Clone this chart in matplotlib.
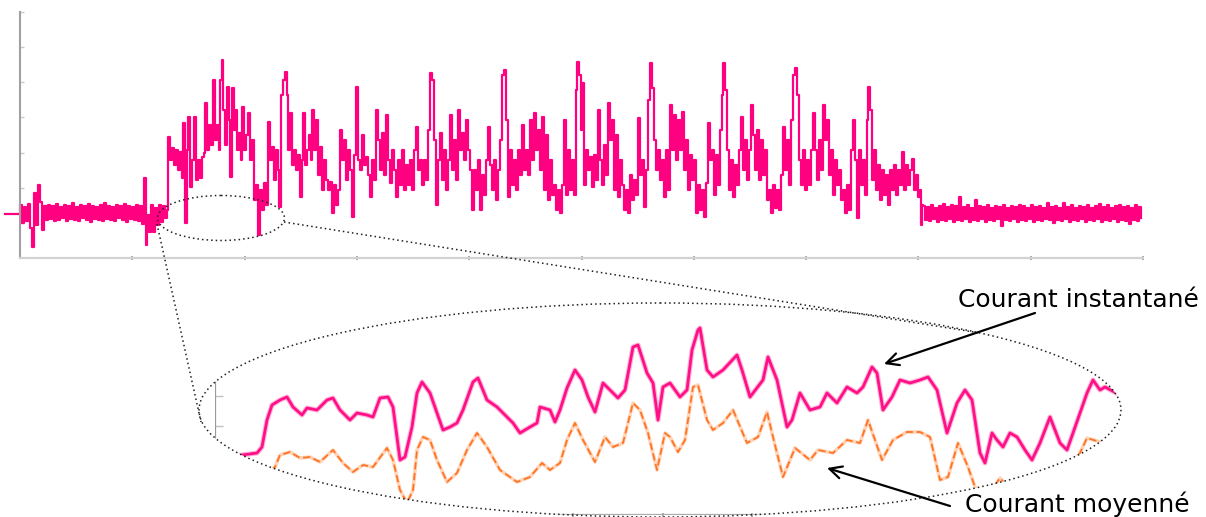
import numpy as np
import matplotlib
matplotlib.use("Agg")
import matplotlib.pyplot as plt
from matplotlib.patches import Ellipse

FONT = ['DejaVu Sans']

# ---------------- main trace (instantaneous current) ----------------
# units: time in samples (x), current in arbitrary units (y)
pre_x = [-15]
pre_v = [44]

base_left_x = list(range(0, 127, 2))
base_left_v = [53, 35, 51, 37, 54, 30, 11, 65, 33, 73, 56, 28, 52, 38, 53, 39, 52, 37, 54, 38,
               51, 40, 53, 37, 52, 39, 55, 38, 51, 37, 53, 40, 52, 38, 54, 36, 52, 39, 51, 38,
               53, 37, 55, 39, 52, 38, 51, 37, 53, 40, 52, 38, 54, 36, 52, 39, 51, 38, 53, 37,
               52, 34, 80, 13]

active_pts = [
    (127, 43), (129, 26), (131, 53), (133, 26), (135, 50), (137, 33), (139, 53), (141, 36), (143, 52), (145, 40),
    (147, 48), (148, 121), (150, 98), (152, 110), (154, 93), (156, 108), (158, 88), (160, 106), (162, 80), (163, 135),
    (165, 35), (167, 108), (168, 141), (170, 71), (172, 98), (174, 141), (176, 78), (178, 98), (180, 80), (182, 101),
    (184, 105), (185, 155), (187, 108), (189, 133), (191, 113), (193, 178), (195, 118), (197, 133), (199, 108), (200, 178),
    (202, 198), (203, 148), (205, 113), (207, 171), (209, 138), (210, 81), (212, 170), (214, 128), (216, 148), (217, 108),
    (219, 125), (221, 98), (222, 151), (224, 108), (226, 123), (228, 145), (230, 98), (232, 118), (234, 58), (236, 73),
    (238, 23), (240, 68), (242, 48), (244, 75), (246, 53), (248, 136), (250, 98), (252, 111), (254, 78), (256, 108),
    (258, 88), (259, 51), (261, 163), (263, 178), (265, 186), (267, 163), (268, 108), (270, 145), (272, 93), (274, 108),
    (276, 88), (278, 103), (280, 61), (282, 98), (283, 145), (285, 93), (287, 108), (289, 123), (291, 98), (292, 148),
    (294, 108), (296, 138), (298, 83), (300, 111), (302, 68), (304, 98), (306, 78), (308, 68), (310, 76), (312, 45),
    (314, 73), (316, 53), (318, 68), (320, 128), (322, 98), (324, 118), (326, 78), (328, 108), (330, 88), (332, 41),
    (334, 103), (336, 171), (338, 98), (340, 88), (342, 123), (344, 93), (346, 101), (348, 83), (350, 61), (352, 98),
    (354, 78), (356, 148), (358, 118), (360, 88), (362, 125), (364, 83), (366, 143), (368, 98), (370, 75), (372, 108),
    (374, 88), (376, 61), (378, 98), (380, 73), (382, 108), (384, 68), (386, 93), (388, 73), (390, 98), (392, 68),
    (394, 108), (396, 131), (398, 88), (400, 98), (402, 73), (404, 98), (406, 78), (408, 128), (410, 185), (412, 178),
    (414, 118), (416, 53), (418, 98), (420, 125), (422, 78), (424, 108), (426, 68), (428, 98), (430, 143), (432, 88),
    (434, 118), (436, 78), (438, 148), (440, 108), (442, 125), (444, 98), (446, 138), (448, 108), (450, 88), (452, 48),
    (454, 88), (456, 68), (458, 98), (460, 48), (462, 83), (464, 63), (466, 98), (468, 131), (470, 93), (472, 68),
    (474, 98), (476, 58), (478, 88), (480, 118), (482, 183), (484, 188), (486, 138), (488, 61), (490, 108), (492, 73),
    (494, 98), (496, 68), (498, 108), (500, 83), (502, 133), (504, 88), (506, 108), (508, 83), (510, 138), (512, 98),
    (514, 145), (516, 108), (518, 128), (520, 88), (522, 141), (524, 68), (526, 123), (528, 58), (530, 98), (532, 63),
    (534, 73), (536, 48), (538, 68), (540, 45), (542, 73), (544, 138), (546, 63), (548, 108), (550, 68), (552, 98),
    (554, 63), (556, 168), (557, 196), (559, 183), (561, 128), (562, 175), (564, 73), (566, 108), (568, 88), (570, 101),
    (572, 71), (574, 103), (576, 78), (578, 148), (580, 98), (582, 73), (584, 113), (586, 83), (588, 155), (590, 118),
    (592, 138), (594, 68), (596, 123), (598, 61), (600, 98), (602, 73), (604, 48), (606, 68), (608, 45), (610, 83),
    (612, 58), (614, 78), (616, 63), (618, 140), (620, 83), (622, 98), (624, 51), (626, 88), (628, 158), (630, 195),
    (632, 170), (634, 118), (636, 88), (638, 108), (640, 78), (642, 98), (644, 61), (646, 108), (648, 68), (650, 153),
    (652, 108), (654, 143), (656, 98), (658, 138), (660, 108), (662, 146), (664, 88), (666, 118), (668, 68), (670, 103),
    (672, 78), (674, 98), (676, 45), (678, 73), (680, 48), (682, 68), (684, 41), (686, 75), (688, 135), (690, 98),
    (692, 108), (694, 63), (696, 103), (698, 73), (700, 128), (702, 163), (703, 195), (705, 168), (707, 108), (709, 68),
    (711, 98), (713, 61), (715, 93), (717, 73), (719, 108), (721, 141), (723, 88), (725, 118), (727, 78), (729, 108),
    (731, 153), (733, 123), (735, 88), (737, 128), (739, 78), (741, 118), (743, 83), (745, 108), (747, 58), (749, 68),
    (751, 45), (753, 73), (755, 50), (757, 68), (759, 48), (761, 83), (763, 131), (765, 88), (767, 118), (769, 73),
    (771, 138), (773, 183), (775, 190), (777, 163), (779, 98), (781, 73), (783, 108), (785, 68), (787, 98), (789, 73),
    (791, 108), (793, 145), (795, 108), (797, 78), (799, 118), (801, 88), (803, 153), (805, 118), (807, 138), (809, 83),
    (811, 108), (813, 63), (815, 98), (817, 73), (819, 88), (821, 58), (823, 68), (825, 45), (827, 73), (829, 48),
    (831, 108), (833, 138), (835, 98), (837, 40), (839, 108), (841, 73), (843, 98), (845, 63), (847, 138), (848, 171),
    (850, 148), (852, 78), (854, 108), (856, 68), (858, 93), (860, 58), (862, 88), (864, 63), (866, 83), (868, 53),
    (870, 88), (872, 68), (874, 93), (876, 63), (878, 88), (880, 73), (882, 106), (884, 68), (886, 93), (888, 73),
    (890, 88), (892, 99), (894, 68), (896, 83), (898, 61), (900, 68), (901, 33), (902, 53),
]

base_right_x = list(range(903, 1122, 2))
base_right_v = [52, 38, 51, 37, 53, 39, 50, 36, 52, 38, 54, 37, 51, 39, 53, 36, 52, 38, 61, 37,
                51, 39, 53, 36, 50, 38, 58, 37, 52, 39, 51, 36, 53, 38, 50, 37, 52, 39, 51, 32,
                53, 38, 50, 37, 52, 39, 51, 36, 53, 38, 52, 37, 50, 39, 53, 36, 51, 38, 52, 37,
                50, 39, 55, 38, 51, 35, 52, 38, 50, 37, 55, 39, 51, 36, 53, 38, 50, 37, 52, 39,
                51, 36, 53, 38, 50, 37, 52, 39, 54, 36, 51, 38, 53, 37, 50, 39, 52, 36, 53, 38,
                51, 37, 52, 34, 50, 38, 53, 37, 51, 40]

# ---------------- inset (zoom) traces ----------------
inset_inst_t = [0, 15, 27, 42, 47, 52, 57, 65, 72, 78, 87, 92, 102, 112, 118, 125, 135, 142, 152, 158,
                165, 173, 178, 185, 190, 197, 202, 207, 215, 222, 228, 235, 242, 248, 258, 263, 272, 282, 292, 298,
                305, 315, 322, 325, 335, 340, 345, 352, 360, 367, 373, 380, 388, 395, 403, 410, 418, 423, 432, 438,
                443, 448, 455, 465, 472, 477, 483, 485, 492, 498, 508, 522, 527, 535, 548, 553, 562, 572, 577, 585,
                595, 605, 612, 622, 632, 642, 648, 657, 662, 668, 677, 685, 695, 705, 713, 722, 732, 742, 750, 757,
                765, 770, 777, 782, 788, 795, 802, 810, 817, 825, 835, 845, 852, 858, 865, 872, 878, 885, 890, 905]
inset_inst_v = [57, 58, 60, 62, 68, 95, 110, 115, 118, 108, 100, 107, 105, 115, 117, 105, 95, 102, 100, 98,
                117, 118, 108, 55, 58, 88, 122, 133, 122, 102, 85, 88, 92, 105, 133, 137, 115, 108, 98, 92,
                82, 88, 92, 108, 105, 93, 105, 127, 145, 135, 118, 103, 132, 125, 117, 125, 168, 170, 142, 132,
                95, 128, 132, 118, 125, 165, 185, 187, 145, 138, 145, 160, 145, 118, 135, 158, 135, 88, 95, 122,
                105, 108, 122, 112, 128, 122, 128, 148, 142, 105, 118, 135, 132, 135, 138, 125, 82, 112, 125, 115,
                62, 52, 82, 75, 68, 82, 78, 65, 55, 72, 98, 72, 65, 82, 102, 122, 135, 125, 128, 120]

inset_avg_t = [40, 60, 65, 75, 85, 95, 105, 118, 128, 138, 148, 158, 172, 178, 185, 192, 198, 202, 208, 215,
               222, 232, 242, 252, 262, 272, 285, 302, 315, 327, 335, 345, 352, 360, 368, 380, 390, 398, 408, 418,
               425, 433, 442, 450, 455, 463, 470, 478, 483, 492, 498, 508, 518, 532, 543, 552, 558, 568, 580, 595,
               603, 618, 632, 645, 653, 667, 678, 692, 705, 715, 725, 733, 743, 753, 760, 770, 785, 800, 815, 830,
               845, 860, 865, 872, 885, 905]
inset_avg_v = [30, 48, 60, 63, 57, 58, 53, 65, 52, 43, 50, 48, 67, 55, 25, 12, 25, 65, 78, 75,
               55, 33, 42, 65, 82, 68, 45, 33, 38, 52, 45, 52, 75, 92, 75, 53, 78, 68, 72, 112,
               105, 82, 45, 82, 78, 63, 75, 128, 130, 95, 85, 92, 105, 72, 78, 103, 78, 38, 67, 55,
               65, 62, 75, 72, 95, 55, 75, 83, 83, 78, 35, 38, 72, 48, 28, 15, 37, 20, 10, 25,
               40, 55, 62, 77, 73, 70]

# ---------------- figure ----------------
fig = plt.figure(figsize=(12.06, 5.17), dpi=100)
W, H = 1206, 517

ax = fig.add_axes([20 / W, (H - 258) / H, 1123 / W, 246 / H])
act_x = [p[0] for p in active_pts]
act_v = [p[1] for p in active_pts]
main_x = pre_x + base_left_x + act_x + base_right_x
main_v = pre_v + base_left_v + act_v + base_right_v
ax.plot(main_x, main_v, drawstyle='steps-post', color='#ff0080', lw=1.6, clip_on=False)
ax.set_xlim(0, 1123)
ax.set_ylim(0, 246)
for s in ['top', 'right']:
    ax.spines[s].set_visible(False)
ax.spines['left'].set_color('#a0a0a0')
ax.spines['left'].set_linewidth(1.5)
ax.spines['bottom'].set_color('#d2d2d2')
ax.spines['bottom'].set_linewidth(1.6)
ax.set_yticks(np.arange(0, 247, 35.14)[1:])
ax.set_xticks(np.linspace(0, 1123, 11)[1:])
ax.tick_params(axis='y', direction='in', length=3, width=1, color='#c8c8c8', labelleft=False)
ax.tick_params(axis='x', direction='inout', length=3, width=1.2, color='#9a9a9a', labelbottom=False)
ax.patch.set_visible(False)

# overlay in figure pixel coordinates
ov = fig.add_axes([0, 0, 1, 1], zorder=5)
ov.set_xlim(0, W)
ov.set_ylim(H, 0)
ov.axis('off')

dot = dict(color='#202020', lw=1.1, ls=(0, (1, 2)))
big = Ellipse((660, 410), 922, 214, fill=False, **dot)
small = Ellipse((221, 218), 127, 45, fill=False, **dot)
ov.add_patch(big)
ov.add_patch(small)
ov.plot([157, 201], [224, 422], **dot)
ov.plot([284, 980], [222, 333], **dot)

# inset axes
ins = fig.add_axes([215 / W, 2 / H, 910 / W, 215 / H], zorder=4)
ins.patch.set_visible(False)
ins.set_xlim(0, 910)
ins.set_ylim(0, 215)
clip = Ellipse((660, 410), 922, 214, transform=ov.transData)
l1, = ins.plot(inset_inst_t, inset_inst_v, color='#ffb4d6', lw=3.6, solid_capstyle='round')
l2, = ins.plot(inset_inst_t, inset_inst_v, color='#ff1088', lw=2.0)
l3, = ins.plot(inset_avg_t, inset_avg_v, color='#ffd4b8', lw=2.6)
l4, = ins.plot(inset_avg_t, inset_avg_v, color='#ff7424', lw=1.3, ls=(0, (4, 2)))
for ln in (l1, l2, l3, l4):
    ln.set_clip_path(clip)
for s in ['top', 'right']:
    ins.spines[s].set_visible(False)
ins.spines['left'].set_color('#999999')
ins.spines['left'].set_linewidth(1.6)
ins.spines['bottom'].set_color('#aaaaaa')
ins.spines['bottom'].set_linewidth(1.6)
ins.spines['left'].set_clip_path(clip)
ins.spines['bottom'].set_clip_path(clip)
ins.set_yticks([89, 119])
ins.set_xticks([358, 448, 537])
ins.tick_params(axis='y', direction='in', length=6, width=1, color='#c0c0c0', labelleft=False)
ins.tick_params(axis='x', direction='inout', length=3, width=1.2, color='#999999', labelbottom=False)

# annotations
ov.text(958, 307, 'Courant instantané', fontsize=18, family=FONT, ha='left', va='baseline', color='black')
ov.text(965, 512, 'Courant moyenné', fontsize=18, family=FONT, ha='left', va='baseline', color='black')
ov.annotate('', xy=(884, 364), xytext=(1035, 313),
            arrowprops=dict(arrowstyle='->', lw=1.6, color='black', mutation_scale=22, shrinkA=0, shrinkB=0))
ov.annotate('', xy=(827, 468), xytext=(950, 506),
            arrowprops=dict(arrowstyle='->', lw=1.6, color='black', mutation_scale=22, shrinkA=0, shrinkB=0))

fig.savefig('out.png', dpi=100)
